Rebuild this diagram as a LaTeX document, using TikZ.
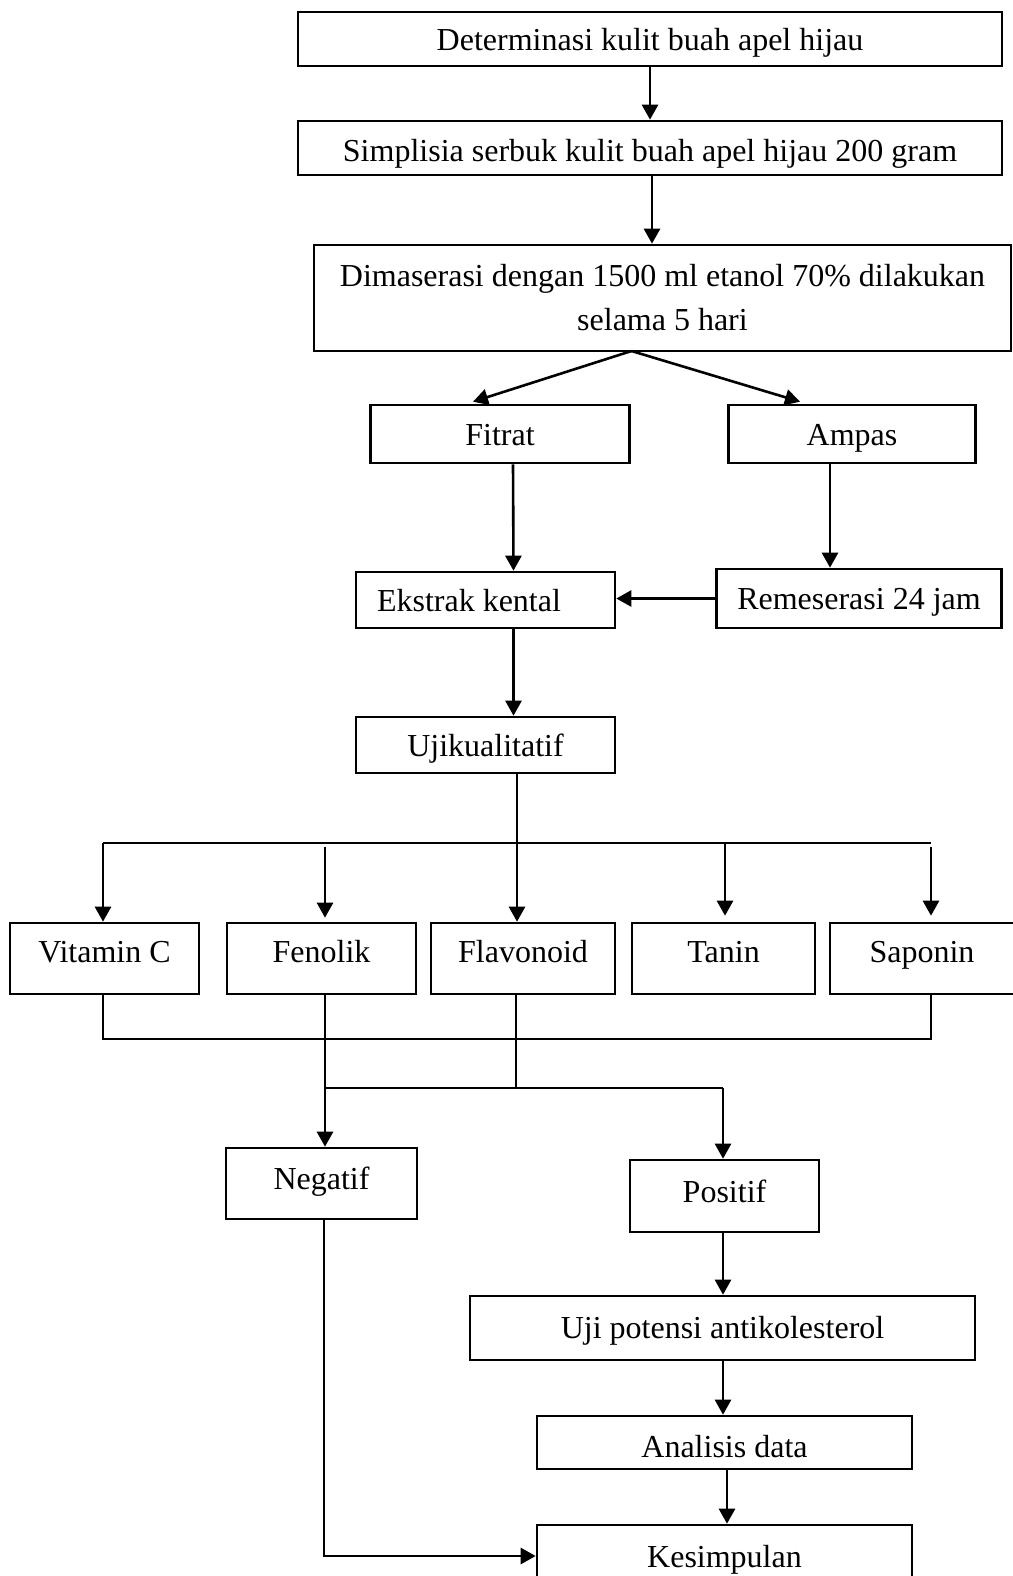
\documentclass[tikz,border=0pt]{standalone}
\usepackage{fontspec}
\setmainfont{Liberation Serif}
\usetikzlibrary{arrows.meta,calc}
\tikzset{
  every picture/.style={x=1pt,y=-1pt},
  box/.style={draw,line width=2.6pt,inner sep=0pt,align=center,
    font=\fontsize{32}{44}\selectfont},
  one/.style={box,text height=30pt,text depth=7pt},
  link/.style={line width=2.6pt},
  flow/.style={line width=2.6pt,-{Triangle[length=15pt,width=16pt]}},
}
\begin{document}
\begin{tikzpicture}
  \useasboundingbox (0,0) rectangle (1012,1576);
  \node[one,minimum width=704,minimum height=54] (det) at (650,39) {Determinasi kulit buah apel hijau};
  \node[one,minimum width=704,minimum height=54,text depth=3pt] (sim) at (650,148) {Simplisia serbuk kulit buah apel hijau 200 gram};
  \node[box,minimum width=697,minimum height=106] (dim) at (662.5,298) {Dimaserasi dengan 1500 ml etanol 70\% dilakukan\\selama 5 hari};
  \node[one,minimum width=259,minimum height=58] (fit) at (500,434) {Fitrat};
  \node[one,minimum width=247,minimum height=58] (amp) at (852,434) {Ampas};
  \node[one,minimum width=259,minimum height=56,text width=217,align=flush left] (eks) at (485.5,600) {Ekstrak kental};
  \node[one,minimum width=285,minimum height=59,text depth=9pt] (rem) at (859,598.5) {Remeserasi 24 jam};
  \node[one,minimum width=259,minimum height=56] (ujk) at (485.5,745) {Ujikualitatif};
  \node[one,minimum width=189,minimum height=71,text depth=23pt] (vit) at (104.5,958.5) {Vitamin C};
  \node[one,minimum width=189,minimum height=71,text depth=23pt] (fen) at (321.5,958.5) {Fenolik};
  \node[one,minimum width=184,minimum height=71,text depth=23pt] (flv) at (523,958.5) {Flavonoid};
  \node[one,minimum width=183,minimum height=71,text depth=23pt] (tan) at (723.5,958.5) {Tanin};
  \node[one,minimum width=184,minimum height=71,text depth=23pt] (sap) at (922,958.5) {Saponin};
  \node[one,minimum width=191,minimum height=71,text depth=19pt] (neg) at (321.5,1183.5) {Negatif};
  \node[one,minimum width=189,minimum height=72,text depth=17pt] (pos) at (724.5,1196) {Positif};
  \node[one,minimum width=505,minimum height=64,text depth=9pt] (ujp) at (722.5,1328) {Uji potensi antikolesterol};
  \node[one,minimum width=375,minimum height=53,text depth=1pt] (ana) at (724.5,1442.5) {Analisis data};
  \node[one,minimum width=375,minimum height=64,text depth=9pt] (kes) at (724.5,1557) {Kesimpulan};

  \coordinate (split) at (631.5,351);
  \coordinate (bl) at (103,843);
  \coordinate (br) at (931,843);
  \coordinate (cl) at (103,1039);
  \coordinate (cr) at (931,1039);
  \coordinate (jn) at (325,1088);
  \coordinate (jp) at (723,1088);
  \coordinate (nk) at (324,1556);

  \draw[flow] (det) -- (sim);
  \draw[flow] ($(sim.south)+(2,0)$) -- ($(sim.south |- dim.north)+(2,0)$);
  \draw[flow] (split) -- ($(fit.north)+(-27,-2)$);
  \draw[flow] (split) -- ($(amp.north)+(-52,-2)$);
  \draw[flow] ($(fit.south)+(13,0)$) -- ($(eks.north)+(28,0)$);
  \draw[flow] ($(amp.south)+(-22,0)$) -- ($(rem.north)+(-29,0)$);
  \draw[flow] (rem.west) -- (rem.west -| eks.east);
  \draw[flow] ($(eks.south)+(28,0)$) -- ($(ujk.north)+(28,0)$);

  \draw[link] (bl) -- (br);
  \draw[flow] ($(ujk.south)+(31.5,0)$) -- ($(flv.north)+(-6,0)$);
  \draw[flow] (bl) -- (bl |- vit.north);
  \draw[flow] ($(fen.north)+(3.5,-75)$) -- ($(fen.north)+(3.5,-4)$);
  \draw[flow] ($(tan.north |- br)+(1.5,0)$) -- ($(tan.north)+(1.5,-6)$);
  \draw[flow] ($(br)+(0,4)$) -- ($(sap.north -| br)+(0,-6)$);

  \draw[link] (vit.south -| cl) -- (cl) -- (cr) -- (sap.south -| cr);
  \draw[flow] ($(fen.south)+(3.5,0)$) -- ($(fen.south |- neg.north)+(3.5,0)$);
  \draw[link] ($(flv.south)+(-7,0)$) -- ($(jn -| flv.south)+(-7,0)$);
  \draw[link] (jn) -- (jp);
  \draw[flow] (jp) -- (jp |- pos.north);
  \draw[flow] ($(pos.south)+(-1.5,0)$) -- ($(ujp.north)+(0.5,0)$);
  \draw[flow] ($(ujp.south)+(0.5,0)$) -- ($(ana.north)+(-1.5,0)$);
  \draw[flow] ($(ana.south)+(2.5,0)$) -- ($(kes.north)+(2.5,0)$);
  \draw[flow] ($(neg.south)+(2.5,0)$) -- (nk) -- (nk -| kes.west);
\end{tikzpicture}
\end{document}
